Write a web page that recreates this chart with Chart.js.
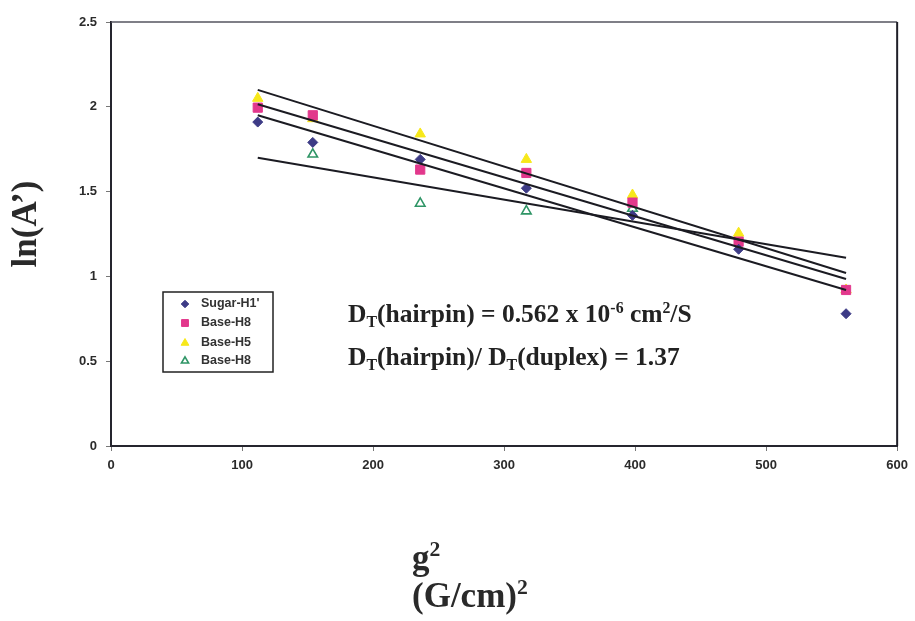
<!DOCTYPE html>
<html>
<head>
<meta charset="utf-8">
<script src="https://cdn.jsdelivr.net/npm/chart.js@4.4.1/dist/chart.umd.min.js"></script>
<style>
  html, body { margin: 0; padding: 0; background: #fff; }
  #wrap { width: 915px; height: 621px; }
</style>
</head>
<body>
<div id="wrap"><canvas id="chart" width="915" height="621"></canvas></div>
<script>
// g^2 values (G/cm)^2
const gValues = [112, 154, 236, 317, 398, 479, 561];

// ln(A') per resonance
const sugarH1 = [1.91, 1.79, 1.69, 1.52, 1.36, 1.16, 0.78];
const baseH8 = [1.995, 1.95, 1.63, 1.61, 1.435, 1.205, 0.92];
const baseH5 = [2.05, 1.93, 1.84, 1.69, 1.48, 1.255, 0.92];
const baseH8b = [null, 1.72, 1.43, 1.385, 1.40, null, null];

// fitted lines, start and end
const trendX = [112, 561];
const trendSugar = [1.95, 0.92];
const trendBaseH8 = [2.015, 0.985];
const trendBaseH5 = [2.10, 1.02];
const trendBaseH8b = [1.70, 1.11];

const xTicks = [0, 100, 200, 300, 400, 500, 600];
const yTicks = [0, 0.5, 1, 1.5, 2, 2.5];

const legendNames = ["Sugar-H1'", 'Base-H8', 'Base-H5', 'Base-H8'];

function pts(xs, ys) {
  const out = [];
  xs.forEach((x, i) => { if (ys[i] !== null) out.push({ x: x, y: ys[i] }); });
  return out;
}

function trend(ys) {
  return {
    type: 'line',
    data: pts(trendX, ys),
    borderColor: '#1b1b22',
    borderWidth: 2,
    pointRadius: 0,
    fill: false
  };
}

const markers = [
  { label: legendNames[0], data: pts(gValues, sugarH1), pointStyle: 'rectRot', pointRadius: 5, backgroundColor: '#3d3b86', borderColor: '#3d3b86', borderWidth: 1 },
  { label: legendNames[1], data: pts(gValues, baseH8), pointStyle: 'rect', pointRadius: 6.5, backgroundColor: '#e2388c', borderColor: '#e2388c', borderWidth: 1 },
  { label: legendNames[2], data: pts(gValues, baseH5), pointStyle: 'triangle', pointRadius: 6, backgroundColor: '#f7e81a', borderColor: '#f7e81a', borderWidth: 1 },
  { label: legendNames[3], data: pts(gValues, baseH8b), pointStyle: 'triangle', pointRadius: 5.5, backgroundColor: '#ffffff', borderColor: '#2f9566', borderWidth: 1.6 }
];

const SERIF = '"Liberation Serif", "Times New Roman", serif';
const SANS = '"Liberation Sans", Arial, sans-serif';

// draws a line of text with sub/superscript pieces
function richText(ctx, x, y, parts, size) {
  let cx = x;
  parts.forEach(p => {
    const s = p.sub || p.sup ? size * 0.62 : size;
    ctx.font = 'bold ' + s + 'px ' + SERIF;
    let dy = 0;
    if (p.sub) dy = size * 0.18;
    if (p.sup) dy = -size * 0.36;
    ctx.fillText(p.t, cx, y + dy);
    cx += ctx.measureText(p.t).width;
  });
}

const decor = {
  id: 'decor',
  afterDraw(chart) {
    const ctx = chart.ctx;
    const a = chart.chartArea;
    ctx.save();
    // frame top and right
    ctx.strokeStyle = '#55555f';
    ctx.lineWidth = 1.5;
    ctx.beginPath();
    ctx.moveTo(a.left, a.top);
    ctx.lineTo(a.right, a.top);
    ctx.stroke();
    ctx.strokeStyle = '#1f1f28';
    ctx.lineWidth = 2;
    ctx.beginPath();
    ctx.moveTo(a.right, a.top);
    ctx.lineTo(a.right, a.bottom);
    ctx.stroke();

    // legend box
    const lx = 163, ly = 292, lw = 110, lh = 80;
    ctx.strokeStyle = '#222';
    ctx.lineWidth = 1.5;
    ctx.strokeRect(lx, ly, lw, lh);
    ctx.font = 'bold 12.5px ' + SANS;
    ctx.textBaseline = 'middle';
    const rowY = [304, 323, 343, 361];
    markers.forEach((m, i) => {
      ctx.save();
      ctx.fillStyle = m.backgroundColor;
      ctx.strokeStyle = m.borderColor;
      ctx.lineWidth = m.borderWidth;
      Chart.helpers.drawPoint(ctx, { pointStyle: m.pointStyle, radius: m.pointRadius * 0.75, borderWidth: m.borderWidth }, 185, rowY[i]);
      ctx.restore();
      ctx.fillStyle = '#333';
      ctx.fillText(m.label, 201, rowY[i]);
    });

    // annotation
    ctx.fillStyle = '#222';
    ctx.textBaseline = 'alphabetic';
    richText(ctx, 348, 322, [
      { t: 'D' }, { t: 'T', sub: true }, { t: '(hairpin) = 0.562 x 10' }, { t: '-6', sup: true },
      { t: ' cm' }, { t: '2', sup: true }, { t: '/S' }
    ], 25.5);
    richText(ctx, 348, 365, [
      { t: 'D' }, { t: 'T', sub: true }, { t: '(hairpin)/ D' }, { t: 'T', sub: true }, { t: '(duplex) = 1.37' }
    ], 25.5);

    // x axis title
    ctx.fillStyle = '#2a2a2a';
    richText(ctx, 412, 569, [{ t: 'g' }, { t: '2', sup: true }], 35);
    richText(ctx, 412, 607, [{ t: '(G/cm)' }, { t: '2', sup: true }], 35);

    // y axis title
    ctx.save();
    ctx.translate(36, 224);
    ctx.rotate(-Math.PI / 2);
    ctx.textAlign = 'center';
    ctx.font = 'bold 35px ' + SERIF;
    ctx.fillText('ln(A\u2019)', 0, 0);
    ctx.restore();

    ctx.restore();
  }
};

new Chart(document.getElementById('chart'), {
  type: 'scatter',
  data: {
    datasets: [
      trend(trendBaseH5), trend(trendBaseH8), trend(trendSugar), trend(trendBaseH8b),
      ...markers
    ]
  },
  options: {
    responsive: false,
    animation: false,
    layout: { padding: { top: 22, right: 17, left: 0, bottom: 0 } },
    plugins: {
      legend: { display: false },
      tooltip: { enabled: false }
    },
    scales: {
      x: {
        type: 'linear',
        min: xTicks[0],
        max: xTicks[xTicks.length - 1],
        afterBuildTicks: s => { s.ticks = xTicks.map(v => ({ value: v })); },
        afterFit: s => { s.height = 175; },
        grid: { drawOnChartArea: false, drawTicks: true, tickLength: 5, color: '#777' },
        border: { color: '#25252e', width: 2 },
        ticks: { padding: 7, color: '#2b2b2b', font: { family: SANS, size: 13, weight: 'bold' }, maxRotation: 0, callback: v => String(v) }
      },
      y: {
        min: yTicks[0],
        max: yTicks[yTicks.length - 1],
        afterBuildTicks: s => { s.ticks = yTicks.map(v => ({ value: v })); },
        afterFit: s => { s.width = 111; },
        grid: { drawOnChartArea: false, drawTicks: true, tickLength: 5, color: '#777' },
        border: { color: '#25252e', width: 2 },
        ticks: { padding: 9, color: '#2b2b2b', font: { family: SANS, size: 13, weight: 'bold' }, callback: v => String(v) }
      }
    }
  },
  plugins: [decor]
});
</script>
</body>
</html>
